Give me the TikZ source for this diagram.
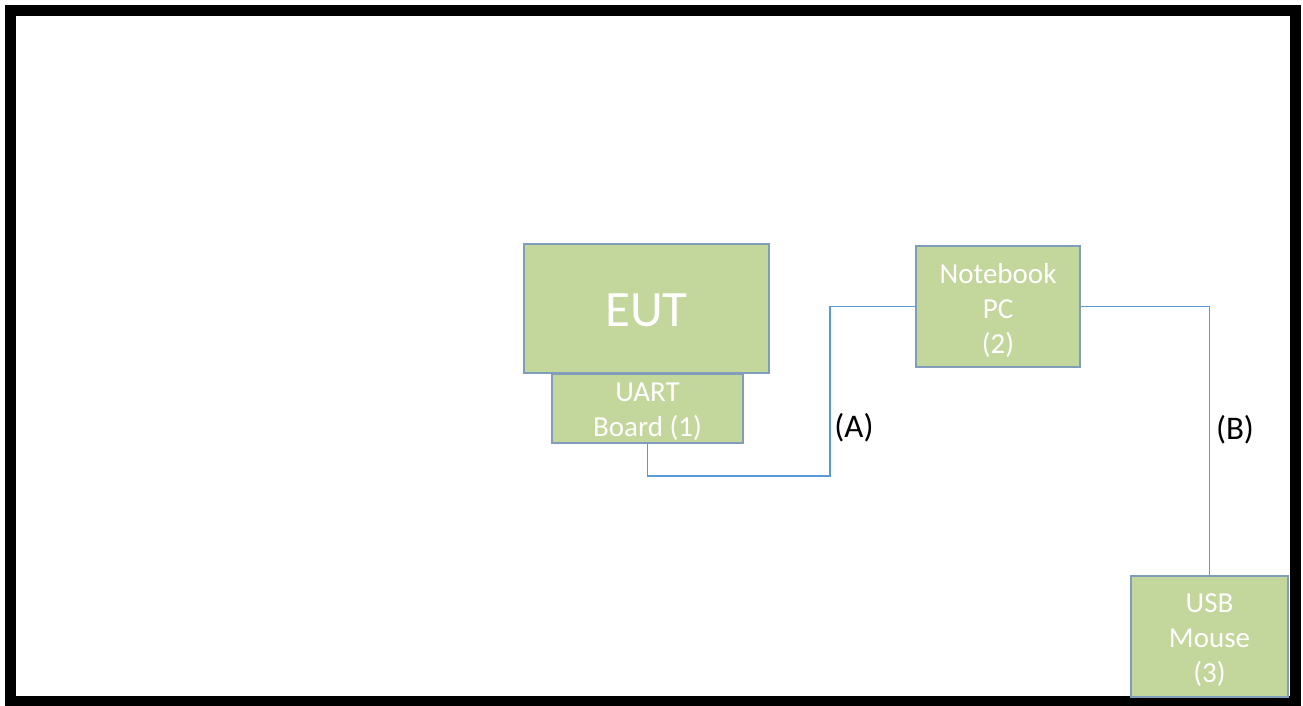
\documentclass[tikz,border=0pt]{standalone}
\usepackage{fontspec}
\setmainfont{Carlito}
\definecolor{boxfill}{RGB}{195,214,155}
\definecolor{boxline}{RGB}{128,158,186}
\definecolor{wire}{RGB}{91,155,213}
\begin{document}
\begin{tikzpicture}[x=1pt,y=-1pt,
  unit/.style={draw=boxline,line width=1.5pt,fill=boxfill,inner sep=0pt},
  unittext/.style={inner sep=0pt,align=center,text=white,font=\fontsize{29}{35}\selectfont,yshift=-3.5pt},
  conn/.style={draw=wire,line width=1.2pt},
  lbl/.style={text=black,font=\fontsize{33}{36}\selectfont,inner sep=0pt}]
\useasboundingbox (0,0) rectangle (1303,705);
\begin{scope}
\clip (0,0) rectangle (1303,705);
\draw[line width=11pt] (10.5,10.5) rectangle (1295,701);
\end{scope}
\node[unit,minimum width=245pt,minimum height=129pt,label={[unittext,font=\fontsize{51}{60}\selectfont,yshift=1.5pt]center:EUT}] (eut) at (646.5,308.5) {};
\node[unit,minimum width=191pt,minimum height=69pt,label={[unittext]center:UART\\Board (1)}] (uart) at (647.5,408.5) {};
\node[unit,minimum width=164pt,minimum height=121pt,label={[unittext]center:Notebook\\PC\\(2)}] (nb) at (998,306.5) {};
\node[unit,minimum width=157pt,minimum height=121pt,label={[unittext]center:USB\\Mouse\\(3)}] (mouse) at (1209.5,636.5) {};
\coordinate (a1) at (830,476);
\draw[conn] (uart.south) |- (a1) |- (nb.west);
\draw[conn] (nb.east) -| (mouse.north);
\node[lbl] (la) at (854,428) {(A)};
\node[lbl] (lb) at (1235,430) {(B)};
\end{tikzpicture}
\end{document}
